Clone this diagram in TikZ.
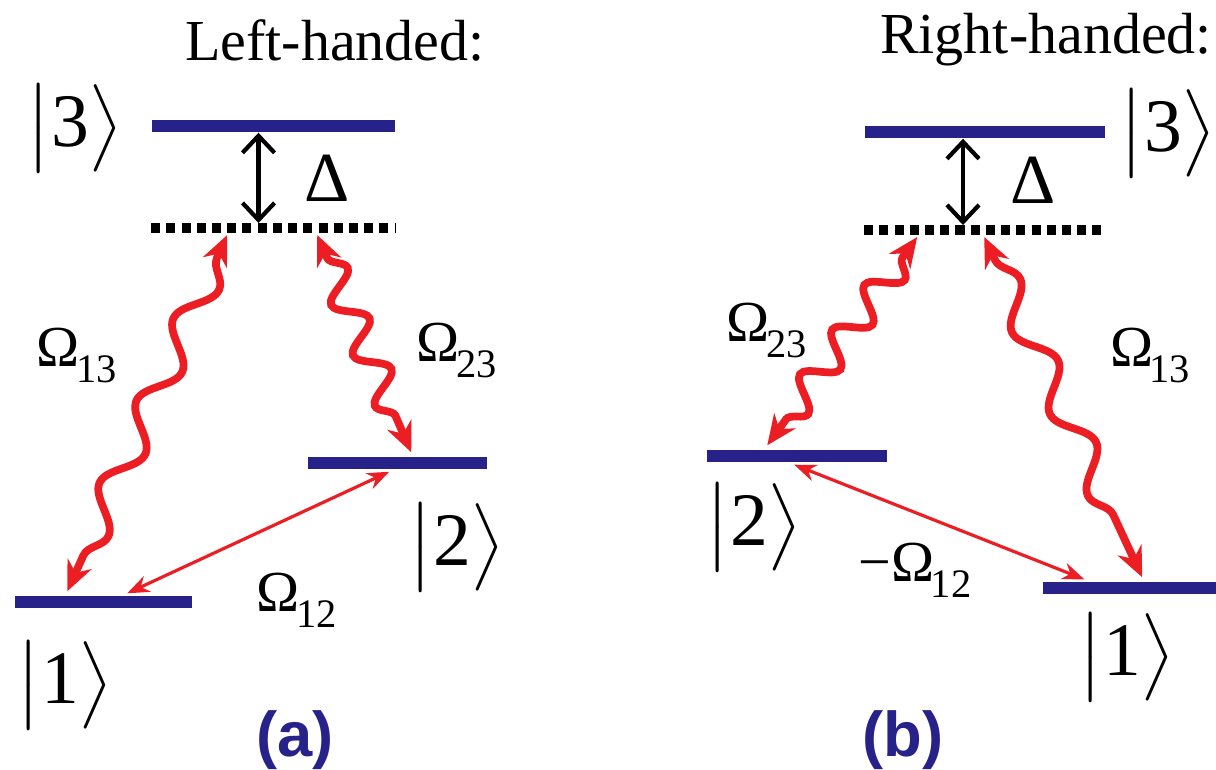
\documentclass[tikz,border=0pt]{standalone}
\usepackage{amsmath}
\usepackage{fontspec}
\setmainfont{Liberation Serif}
\setsansfont{Liberation Sans}
\usetikzlibrary{positioning,arrows.meta,decorations.pathmorphing,calc}

\definecolor{levelblue}{RGB}{38,34,138}
\definecolor{photonred}{RGB}{236,30,36}

\newcommand{\ketlabel}[1]{$\bigl|$#1$\bigr\rangle$}
\newcommand{\rabi}[1]{Ω\kern-1pt\raisebox{-0.6ex}{\fontsize{11.5}{13}\selectfont #1}}

\begin{document}
\begin{tikzpicture}[
    x=0.01cm, y=-0.01cm,
    every node/.style={font=\fontsize{16.5}{19}\selectfont},
    level/.style={fill=levelblue, inner sep=0pt, minimum height=0.12cm},
    vlevel/.style={inner sep=0pt, minimum width=2.43cm, minimum height=0pt},
    dotline/.style={line width=0.1cm, dash pattern=on 0.09cm off 0.062cm},
    ketnode/.style={inner sep=0pt, font=\fontsize{21.5}{25}\selectfont},
    title/.style={inner sep=0pt, font=\fontsize{16.5}{19}\selectfont},
    panel/.style={font=\fontsize{18}{21}\selectfont\sffamily\bfseries, text=levelblue},
    detune/.style={line width=1.2pt, {Straight Barb[length=0.17cm,width=0.32cm]}-{Straight Barb[length=0.17cm,width=0.32cm]}},
    coupling/.style={photonred, line width=0.9pt, {Stealth[length=0.22cm,width=0.17cm]}-{Stealth[length=0.22cm,width=0.17cm]}},
    photon/.style={photonred, line width=2.2pt, {Stealth[length=0.3cm,width=0.26cm]}-{Stealth[length=0.3cm,width=0.26cm]},
      decorate, decoration={snake, amplitude=0.15cm, segment length=#1, pre length=0.25cm, post length=0.25cm}},
    photon/.default=0.9cm
  ]
  \useasboundingbox (0,0) rectangle (1216,769);

  % (a) left-handed
  \node[title] (titleA) at (335,40) {Left-handed:};
  \node[level, minimum width=2.43cm] (a3) at (273.5,126) {};
  \node[vlevel] (av) at (273.5,228) {};
  \node[level, minimum width=1.79cm] (a2) at (397.5,463) {};
  \node[level, minimum width=1.77cm] (a1) at (103.5,602) {};
  \draw[dotline] (av.west) -- (av.east);

  \node[ketnode] (k3a) at (75,128) {\ketlabel{3}};
  \node[ketnode] (k2a) at (457,547) {\ketlabel{2}};
  \node[ketnode] (k1a) at (65,685) {\ketlabel{1}};
  \node[font=\fontsize{20}{23}\selectfont] (deltaA) at (327,178) {Δ};

  \draw[detune] ($(a3.south)+(-15,0)$) -- ($(av.center)+(-15,-5)$);
  \draw[photon] ($(av.west)+(76,7)$) -- ($(a1.north west)+(53,-4)$);
  \draw[photon=0.55cm] ($(av.west)+(166,7)$) -- ($(a2.north west)+(104,-4)$);
  \draw[coupling] ($(a1.north west)+(113,-2)$) -- ($(a2.south west)+(82,2)$);

  \node (o13a) at (77,355) {\rabi{13}};
  \node (o23a) at (457,350) {\rabi{23}};
  \node (o12a) at (297,600) {\rabi{12}};
  \node[panel] (labA) at (295,740) {(a)};

  % (b) right-handed
  \node[title] (titleB) at (1046,40) {Right-handed:};
  \node[level, minimum width=2.40cm] (b3) at (985,132) {};
  \node[vlevel, minimum width=2.40cm] (bv) at (985,230) {};
  \node[level, minimum width=1.80cm] (b2) at (797,456) {};
  \node[level, minimum width=1.73cm] (b1) at (1129.5,588) {};
  \draw[dotline] (bv.west) -- (bv.east);

  \node[ketnode] (k3b) at (1168,133) {\ketlabel{3}};
  \node[ketnode] (k2b) at (754,527) {\ketlabel{2}};
  \node[ketnode] (k1b) at (1127,657) {\ketlabel{1}};
  \node[font=\fontsize{20}{23}\selectfont] (deltaB) at (1033,180) {Δ};

  \draw[detune] ($(b3.south)+(-22,0)$) -- ($(bv.center)+(-22,-5)$);
  \draw[photon=0.55cm] ($(bv.west)+(53,7)$) -- ($(b2.north west)+(61,-4)$);
  \draw[photon] ($(bv.west)+(120,7)$) -- ($(b1.north west)+(100,-4)$);
  \draw[coupling] ($(b2.south west)+(88,2)$) -- ($(b1.north west)+(42,-2)$);

  \node (o23b) at (767,330) {\rabi{23}};
  \node (o13b) at (1150,355) {\rabi{13}};
  \node (o12b) at (915,570) {−\rabi{12}};
  \node[panel] (labB) at (903,740) {(b)};
\end{tikzpicture}
\end{document}
